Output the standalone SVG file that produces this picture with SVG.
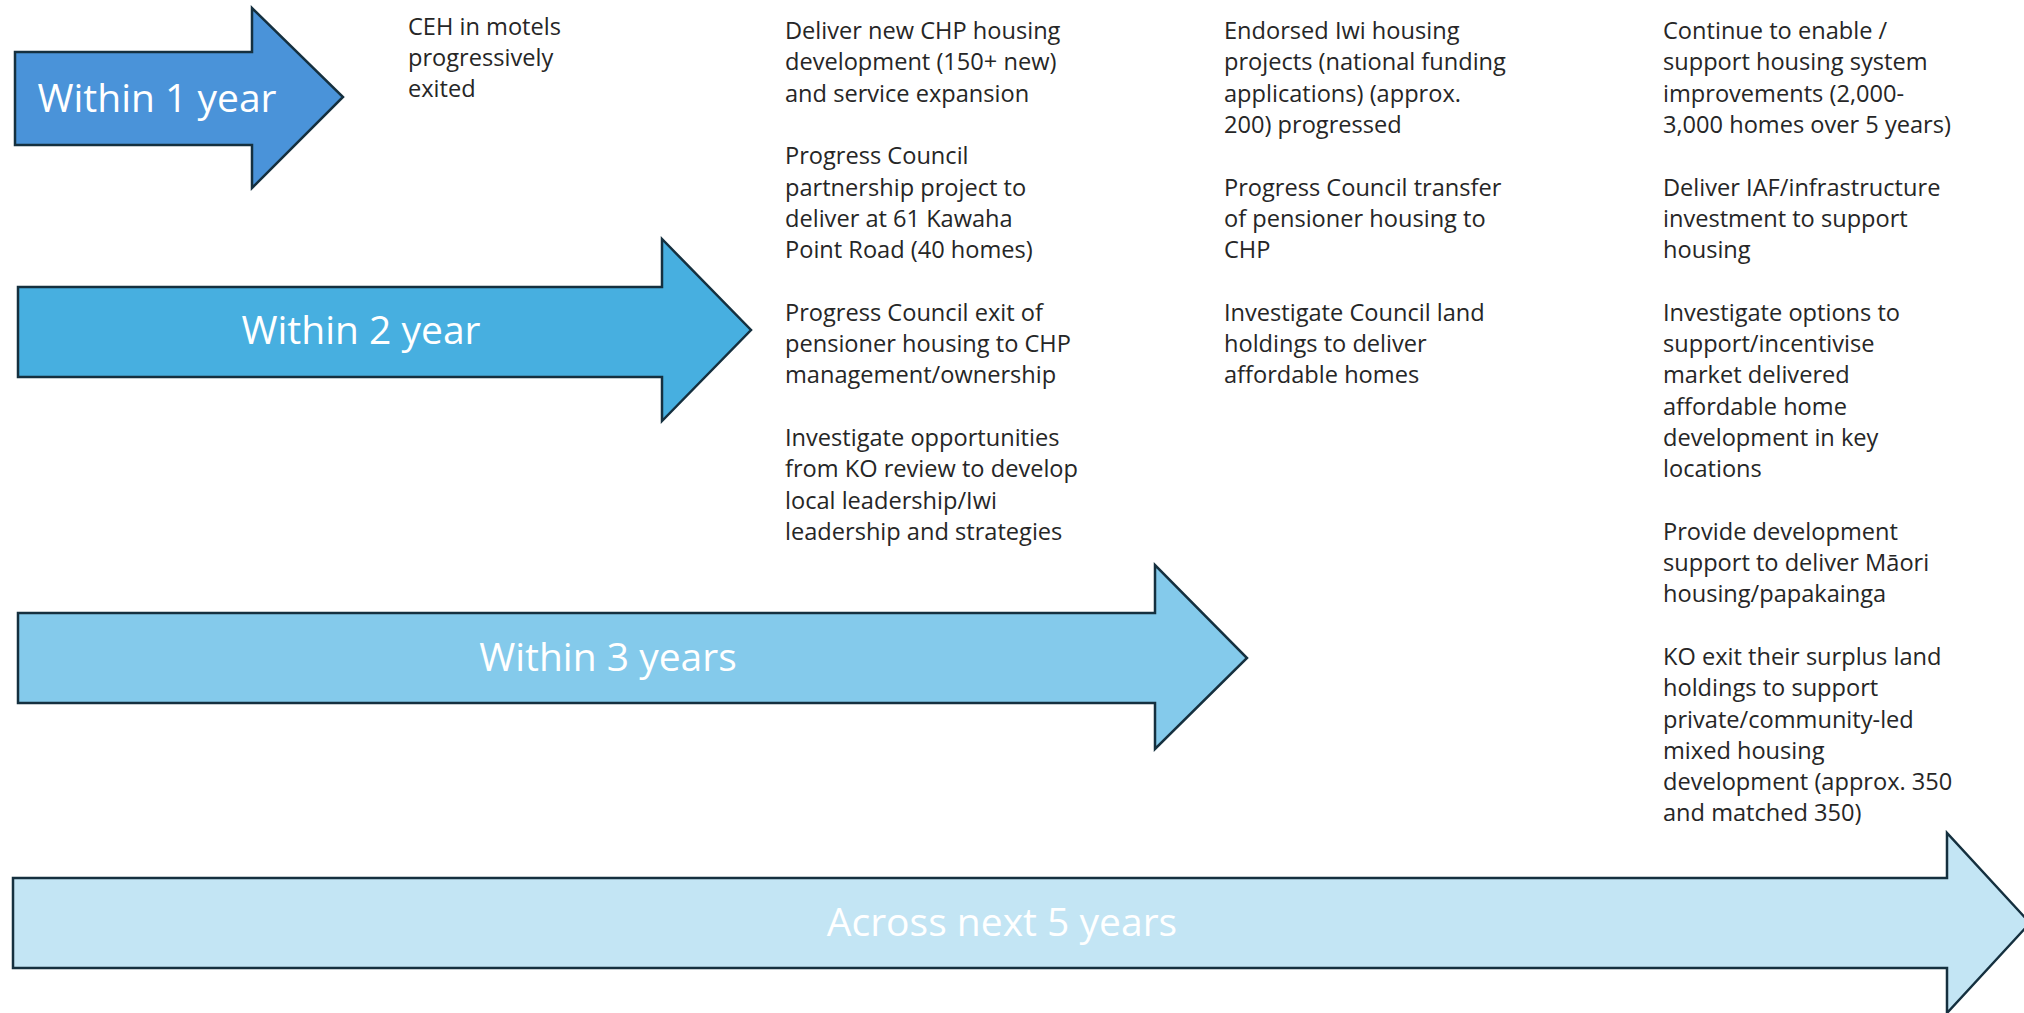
<svg xmlns="http://www.w3.org/2000/svg" width="2024" height="1013" viewBox="0 0 2024 1013">
<style>
.arrow{stroke:#15303f;stroke-width:2.5;stroke-linejoin:miter}
.lbl{font-family:"Open Sans","Liberation Sans",sans-serif;fill:#ffffff;text-anchor:middle;dominant-baseline:central;font-size:39px}
.txt{font-family:"Open Sans","Liberation Sans",sans-serif;font-size:23.6px;fill:#262626}
</style>
<rect width="2024" height="1013" fill="#ffffff"/>
<g id="arrow-1year">
<polygon class="arrow" fill="#4a93d9" points="15,52 252,52 252,8 343,97 252,188 252,145 15,145"/>
<text class="lbl" x="157" y="96">Within 1 year</text>
</g>
<g id="arrow-2year">
<polygon class="arrow" fill="#47afe0" points="18,287 662,287 662,239 751,330 662,421 662,377 18,377"/>
<text class="lbl" x="361" y="328">Within 2 year</text>
</g>
<g id="arrow-3years">
<polygon class="arrow" fill="#84caeb" points="18,613 1155,613 1155,565 1247,658 1155,749 1155,703 18,703"/>
<text class="lbl" x="608" y="655">Within 3 years</text>
</g>
<g id="arrow-5years">
<polygon class="arrow" fill="#c3e5f4" points="13,878 1947,878 1947,833 2030,923 1947,1013 1947,968 13,968"/>
<text class="lbl" x="1002" y="920">Across next 5 years</text>
</g>
<g id="col-1year" class="txt">
<text x="408" y="35">CEH in motels</text>
<text x="408" y="66">progressively</text>
<text x="408" y="97">exited</text>
</g>
<g id="col-2year" class="txt">
<text x="785" y="39">Deliver new CHP housing</text>
<text x="785" y="70">development (150+ new)</text>
<text x="785" y="102">and service expansion</text>
<text x="785" y="164">Progress Council</text>
<text x="785" y="196">partnership project to</text>
<text x="785" y="227">deliver at 61 Kawaha</text>
<text x="785" y="258">Point Road (40 homes)</text>
<text x="785" y="321">Progress Council exit of</text>
<text x="785" y="352">pensioner housing to CHP</text>
<text x="785" y="383">management/ownership</text>
<text x="785" y="446">Investigate opportunities</text>
<text x="785" y="477">from KO review to develop</text>
<text x="785" y="509">local leadership/Iwi</text>
<text x="785" y="540">leadership and strategies</text>
</g>
<g id="col-3years" class="txt">
<text x="1224" y="39">Endorsed Iwi housing</text>
<text x="1224" y="70">projects (national funding</text>
<text x="1224" y="102">applications) (approx.</text>
<text x="1224" y="133">200) progressed</text>
<text x="1224" y="196">Progress Council transfer</text>
<text x="1224" y="227">of pensioner housing to</text>
<text x="1224" y="258">CHP</text>
<text x="1224" y="321">Investigate Council land</text>
<text x="1224" y="352">holdings to deliver</text>
<text x="1224" y="383">affordable homes</text>
</g>
<g id="col-5years" class="txt">
<text x="1663" y="39">Continue to enable /</text>
<text x="1663" y="70">support housing system</text>
<text x="1663" y="102">improvements (2,000-</text>
<text x="1663" y="133">3,000 homes over 5 years)</text>
<text x="1663" y="196">Deliver IAF/infrastructure</text>
<text x="1663" y="227">investment to support</text>
<text x="1663" y="258">housing</text>
<text x="1663" y="321">Investigate options to</text>
<text x="1663" y="352">support/incentivise</text>
<text x="1663" y="383">market delivered</text>
<text x="1663" y="415">affordable home</text>
<text x="1663" y="446">development in key</text>
<text x="1663" y="477">locations</text>
<text x="1663" y="540">Provide development</text>
<text x="1663" y="571">support to deliver Māori</text>
<text x="1663" y="602">housing/papakainga</text>
<text x="1663" y="665">KO exit their surplus land</text>
<text x="1663" y="696">holdings to support</text>
<text x="1663" y="728">private/community-led</text>
<text x="1663" y="759">mixed housing</text>
<text x="1663" y="790">development (approx. 350</text>
<text x="1663" y="821">and matched 350)</text>
</g>
</svg>
